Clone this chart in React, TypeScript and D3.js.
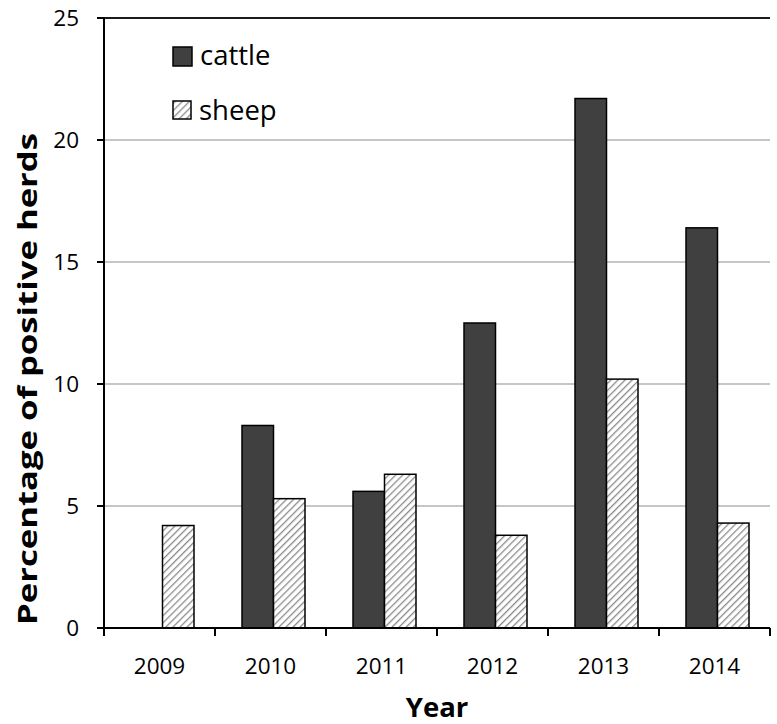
import * as d3 from "d3";

const years = ["2009", "2010", "2011", "2012", "2013", "2014"];
const cattle = [0, 8.3, 5.6, 12.5, 21.7, 16.4];
const sheep = [4.2, 5.3, 6.3, 3.8, 10.2, 4.3];
const yTicks = [0, 5, 10, 15, 20, 25];

const width = 777;
const height = 724;
const marginLeft = 104;
const marginRight = 7;
const marginTop = 18;
const marginBottom = 96;
const font = "'Open Sans', Lato, sans-serif";

export default function App() {
  const x = d3
    .scaleBand()
    .domain(years)
    .range([marginLeft, width - marginRight])
    .paddingInner(0)
    .paddingOuter(0);

  const y = d3
    .scaleLinear()
    .domain([0, 25])
    .range([height - marginBottom, marginTop]);

  const barW = 31.5;
  const bw = x.bandwidth();

  return (
    <svg
      width={width}
      height={height}
      style={{ position: "absolute", left: 0, top: 0, background: "#fff" }}
      fontFamily={font}
    >
      <defs>
        <pattern
          id="hatch"
          patternUnits="userSpaceOnUse"
          width={5}
          height={5}
          patternTransform="rotate(45)"
        >
          <rect width={5} height={5} fill="#fff" />
          <line x1={0} y1={0} x2={0} y2={5} stroke="#8a8a8a" strokeWidth={2.6} />
        </pattern>
      </defs>

      {/* gridlines */}
      {yTicks
        .filter((t) => t > 0)
        .map((t) => (
          <line
            key={t}
            x1={marginLeft}
            x2={width - marginRight}
            y1={y(t)}
            y2={y(t)}
            stroke={t === 25 ? "#1a1a1a" : "#b3b3b3"}
            strokeWidth={t === 25 ? 2 : 1.6}
          />
        ))}

      {/* bars */}
      {years.map((yr, i) => {
        const cx = (x(yr) as number) + bw / 2 + 3;
        return (
          <g key={yr}>
            {cattle[i] > 0 && (
              <rect
                x={cx - barW}
                y={y(cattle[i])}
                width={barW}
                height={y(0) - y(cattle[i])}
                fill="#404040"
                stroke="#000"
                strokeWidth={1.5}
              />
            )}
            <rect
              x={cx}
              y={y(sheep[i])}
              width={barW}
              height={y(0) - y(sheep[i])}
              fill="url(#hatch)"
              stroke="#000"
              strokeWidth={1.5}
            />
          </g>
        );
      })}

      {/* y axis */}
      <line
        x1={marginLeft}
        x2={marginLeft}
        y1={marginTop}
        y2={y(0)}
        stroke="#000"
        strokeWidth={2}
      />
      {yTicks.map((t) => (
        <g key={t}>
          <line
            x1={marginLeft - 7}
            x2={marginLeft}
            y1={y(t)}
            y2={y(t)}
            stroke="#000"
            strokeWidth={2}
          />
          <text
            x={marginLeft - 25}
            y={y(t)}
            dy="0.36em"
            textAnchor="end"
            fontSize={22.5}
            fill="#000"
          >
            {t}
          </text>
        </g>
      ))}

      {/* x axis */}
      <line
        x1={marginLeft - 7}
        x2={width - marginRight}
        y1={y(0)}
        y2={y(0)}
        stroke="#000"
        strokeWidth={2}
      />
      {[...years.map((yr) => x(yr) as number), width - marginRight].map((px, i) => (
        <line
          key={i}
          x1={px}
          x2={px}
          y1={y(0)}
          y2={y(0) + 8}
          stroke="#000"
          strokeWidth={2}
        />
      ))}
      {years.map((yr) => (
        <text
          key={yr}
          x={(x(yr) as number) + bw / 2}
          y={674}
          textAnchor="middle"
          fontSize={22.5}
          fill="#000"
        >
          {yr}
        </text>
      ))}

      {/* axis titles */}
      <text
        x={437}
        y={717}
        textAnchor="middle"
        fontSize={27.5}
        fontWeight="bold"
        fill="#000"
      >
        Year
      </text>
      <text
        transform="translate(37,379) rotate(-90)"
        textAnchor="middle"
        fontSize={27}
        fontWeight="bold"
        fill="#000"
        textLength={492}
        lengthAdjust="spacingAndGlyphs"
      >
        Percentage of positive herds
      </text>

      {/* legend */}
      <rect x={173} y={47} width={19} height={19} fill="#404040" stroke="#000" strokeWidth={1.5} />
      <text x={200} y={65} fontSize={27.5} fill="#000">
        cattle
      </text>
      <rect x={173} y={101} width={18} height={18} fill="url(#hatch)" stroke="#000" strokeWidth={1.5} />
      <text x={199} y={120} fontSize={27.5} fill="#000">
        sheep
      </text>
    </svg>
  );
}
